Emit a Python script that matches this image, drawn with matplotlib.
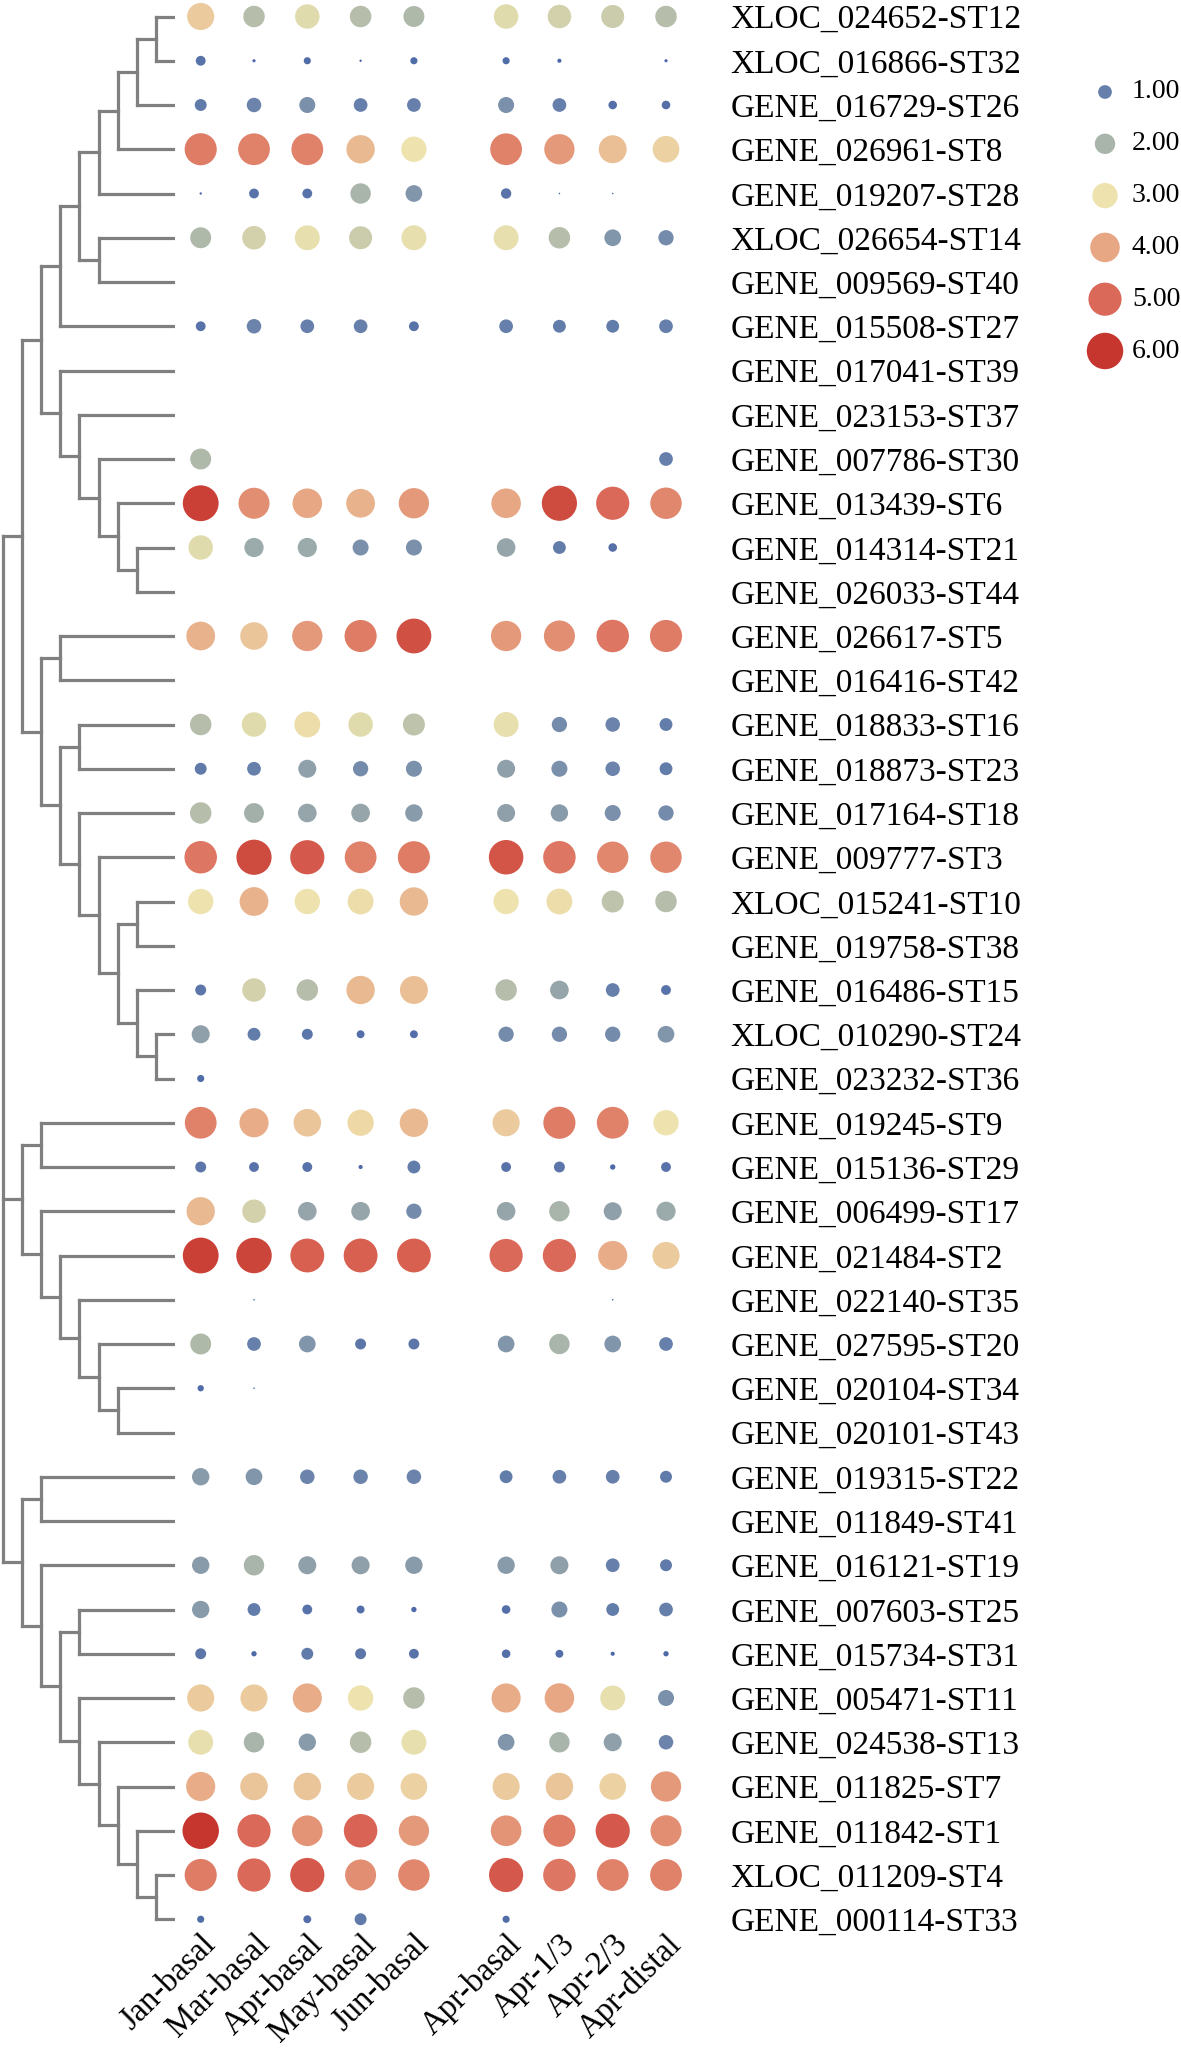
import numpy as np
import matplotlib
matplotlib.use("Agg")
import matplotlib.pyplot as plt
from matplotlib.colors import LinearSegmentedColormap, Normalize

plt.rcParams['font.family'] = ['Liberation Serif', 'DejaVu Serif']

# ---------------- data ----------------
genes = [
    "XLOC_024652-ST12", "XLOC_016866-ST32", "GENE_016729-ST26", "GENE_026961-ST8",
    "GENE_019207-ST28", "XLOC_026654-ST14", "GENE_009569-ST40", "GENE_015508-ST27",
    "GENE_017041-ST39", "GENE_023153-ST37", "GENE_007786-ST30", "GENE_013439-ST6",
    "GENE_014314-ST21", "GENE_026033-ST44", "GENE_026617-ST5", "GENE_016416-ST42",
    "GENE_018833-ST16", "GENE_018873-ST23", "GENE_017164-ST18", "GENE_009777-ST3",
    "XLOC_015241-ST10", "GENE_019758-ST38", "GENE_016486-ST15", "XLOC_010290-ST24",
    "GENE_023232-ST36", "GENE_019245-ST9", "GENE_015136-ST29", "GENE_006499-ST17",
    "GENE_021484-ST2", "GENE_022140-ST35", "GENE_027595-ST20", "GENE_020104-ST34",
    "GENE_020101-ST43", "GENE_019315-ST22", "GENE_011849-ST41", "GENE_016121-ST19",
    "GENE_007603-ST25", "GENE_015734-ST31", "GENE_005471-ST11", "GENE_024538-ST13",
    "GENE_011825-ST7", "GENE_011842-ST1", "XLOC_011209-ST4", "GENE_000114-ST33",
]

samples = ["Jan-basal", "Mar-basal", "Apr-basal", "May-basal", "Jun-basal",
           "Apr-basal", "Apr-1/3", "Apr-2/3", "Apr-distal"]
sample_group = [0, 0, 0, 0, 0, 1, 1, 1, 1]

nan = np.nan
# expression level per gene (rows) x sample (columns); nan = no dot
values = np.array([
    [3.4, 2.2, 2.8, 2.2, 2.1, 2.8, 2.6, 2.5, 2.2],
    [0.6, 0.22, 0.4, 0.2, 0.4, 0.4, 0.25, nan, 0.22],
    [0.8, 1.1, 1.3, 1.0, 1.0, 1.3, 1.0, 0.5, 0.5],
    [4.7, 4.6, 4.6, 3.7, 3.0, 4.6, 4.2, 3.6, 3.3],
    [0.2, 0.6, 0.6, 2.0, 1.4, 0.65, 0.18, 0.18, nan],
    [2.1, 2.6, 2.9, 2.5, 2.9, 2.9, 2.2, 1.4, 1.2],
    [nan] * 9,
    [0.6, 1.1, 1.0, 1.0, 0.6, 1.0, 0.9, 0.9, 1.0],
    [nan] * 9,
    [nan] * 9,
    [2.1, nan, nan, nan, nan, nan, nan, nan, 1.0],
    [5.8, 4.4, 4.0, 3.8, 4.2, 4.0, 5.6, 5.0, 4.5],
    [2.8, 1.8, 1.8, 1.3, 1.3, 1.7, 0.9, 0.5, nan],
    [nan] * 9,
    [3.8, 3.5, 4.2, 4.7, 5.5, 4.2, 4.4, 4.8, 4.7],
    [nan] * 9,
    [2.2, 2.8, 3.1, 2.8, 2.3, 2.9, 1.2, 1.1, 0.9],
    [0.8, 1.0, 1.6, 1.2, 1.3, 1.6, 1.3, 1.1, 0.9],
    [2.2, 1.9, 1.7, 1.7, 1.5, 1.6, 1.5, 1.3, 1.2],
    [4.8, 5.6, 5.3, 4.6, 4.7, 5.4, 4.8, 4.5, 4.5],
    [3.0, 3.8, 3.0, 3.1, 3.7, 3.0, 3.1, 2.3, 2.2],
    [nan] * 9,
    [0.7, 2.6, 2.2, 3.7, 3.6, 2.2, 1.7, 1.0, 0.6],
    [1.6, 0.9, 0.7, 0.45, 0.45, 1.2, 1.2, 1.2, 1.4],
    [0.4, nan, nan, nan, nan, nan, nan, nan, nan],
    [4.6, 3.9, 3.5, 3.2, 3.7, 3.4, 4.7, 4.6, 3.0],
    [0.7, 0.6, 0.6, 0.25, 0.9, 0.6, 0.7, 0.3, 0.6],
    [3.7, 2.6, 1.7, 1.7, 1.2, 1.7, 2.0, 1.6, 1.8],
    [5.8, 5.7, 5.2, 5.2, 5.2, 5.0, 5.0, 3.9, 3.4],
    [nan, 0.1, nan, nan, nan, nan, nan, 0.1, nan],
    [2.1, 1.0, 1.4, 0.7, 0.7, 1.4, 2.0, 1.4, 1.0],
    [0.35, 0.15, nan, nan, nan, nan, nan, nan, nan],
    [nan] * 9,
    [1.5, 1.4, 1.1, 1.1, 1.1, 0.9, 1.0, 1.0, 0.8],
    [nan] * 9,
    [1.5, 2.0, 1.6, 1.6, 1.5, 1.5, 1.6, 1.0, 0.8],
    [1.5, 0.9, 0.6, 0.45, 0.3, 0.5, 1.3, 0.9, 1.0],
    [0.7, 0.3, 0.8, 0.7, 0.6, 0.5, 0.45, 0.25, 0.3],
    [3.4, 3.4, 3.9, 3.0, 2.2, 3.9, 4.0, 2.9, 1.3],
    [2.9, 2.0, 1.5, 2.2, 2.9, 1.4, 2.0, 1.6, 1.1],
    [3.9, 3.5, 3.5, 3.4, 3.3, 3.4, 3.5, 3.3, 4.2],
    [6.0, 5.0, 4.3, 5.1, 4.2, 4.3, 4.7, 5.3, 4.4],
    [4.7, 5.0, 5.3, 4.4, 4.5, 5.3, 4.8, 4.6, 4.6],
    [0.4, nan, 0.45, 0.8, nan, 0.4, nan, nan, nan],
])

legend_values = [1.0, 2.0, 3.0, 4.0, 5.0, 6.0]

# hierarchical clustering tree: (height, [children]); ints are gene rows
tree = (9, [
    (8, [
        (7, [
            (6, [(5, [(4, [(3, [(2, [(1, [0, 1]), 2]), 3]), 4]), (4, [5, 6])]), 7]),
            (6, [8, (5, [9, (4, [10, (3, [11, (2, [12, 13])])])])]),
        ]),
        (7, [
            (6, [14, 15]),
            (6, [(5, [16, 17]),
                 (5, [18, (4, [19, (3, [(2, [20, 21]), (2, [22, (1, [23, 24])])])])])]),
        ]),
    ]),
    (8, [
        (7, [25, 26]),
        (7, [27, (6, [28, (5, [29, (4, [30, (3, [31, 32])])])])]),
    ]),
    (8, [
        (7, [33, 34]),
        (7, [35, (6, [(5, [36, 37]),
                      (5, [38, (4, [39, (3, [40, (2, [41, (1, [42, 43])])])])])])]),
    ]),
])

# ---------------- styling ----------------
cmap = LinearSegmentedColormap.from_list("expr", [
    (0 / 6, "#4360a6"),
    (1 / 6, "#6780ab"),
    (2 / 6, "#a9b5aa"),
    (3 / 6, "#eee4ae"),
    (4 / 6, "#e7a684"),
    (5 / 6, "#db6a5a"),
    (6 / 6, "#c6362e"),
])
norm = Normalize(0, 6)


def dot_size(v):
    r_px = np.sqrt(np.clip(57.0 * np.asarray(v, float) - 10.0, 0.6, None))
    r_pt = r_px * 72.0 / 100.0
    return (2 * r_pt) ** 2


W, H = 1181, 2049
fig = plt.figure(figsize=(W / 100, H / 100), dpi=100)

top_px, bot_px = 0, 1940
ax_b = 1 - bot_px / H
ax_h = (bot_px - top_px) / H
row0, row_step = 16.5, 44.25
ylim = ((bot_px - row0) / row_step, (top_px - row0) / row_step)

# dot axes
col_step = 53.3
col0 = 200.7
ax = fig.add_axes([175 / W, ax_b, (725 - 175) / W, ax_h])
gap = 0.73
xpos = np.array([i + gap * g for i, g in enumerate(sample_group)])
ax.set_xlim((175 - col0) / col_step, (725 - col0) / col_step)
ax.set_ylim(*ylim)

rows, cols = np.nonzero(~np.isnan(values))
v = values[rows, cols]
ax.scatter(xpos[cols], rows, s=dot_size(v), c=v, cmap=cmap, norm=norm,
           linewidths=0, zorder=3)

for s in ax.spines.values():
    s.set_visible(False)
ax.yaxis.tick_right()
ax.set_yticks(np.arange(len(genes)))
ax.set_yticklabels(genes, fontsize=24)
ax.tick_params(axis='y', length=0, pad=4)
ax.set_xticks(xpos)
ax.set_xticklabels(samples, fontsize=23.5, rotation=45, ha='right', va='top',
                   rotation_mode='anchor')
ax.tick_params(axis='x', length=0, pad=-8)

# dendrogram axes
dax = fig.add_axes([0, ax_b, 175 / W, ax_h], sharey=ax)
dax.set_xlim(9.157, 0)
for s in dax.spines.values():
    s.set_visible(False)
dax.tick_params(left=False, bottom=False, labelleft=False, labelbottom=False)
line_kw = dict(color="#808080", lw=2.3, solid_capstyle='projecting')


def draw(node):
    if isinstance(node, (int, np.integer)):
        return float(node), 0.0
    h, children = node
    pos = [draw(c) for c in children]
    ys = [p[0] for p in pos]
    for y, ch in pos:
        dax.plot([ch, h], [y, y], **line_kw)
    dax.plot([h, h], [min(ys), max(ys)], **line_kw)
    return float(np.mean(ys)), h


draw(tree)

# size / colour legend
lax = fig.add_axes([1080 / W, 1 - 384 / H, 101 / W, 320 / H])
lstep = 51.8
ly0 = 92
lax.set_xlim(-25, 76)
lax.set_ylim(1 + (384 - ly0) / lstep, 1 - (ly0 - 64) / lstep)
lax.axis('off')
lv = np.array(legend_values)
lax.scatter(np.zeros_like(lv), lv, s=dot_size(lv), c=lv, cmap=cmap, norm=norm,
            linewidths=0, clip_on=False)
for val in legend_values:
    lax.text(27, val, f"{val:.2f}", fontsize=20, va='center', ha='left')

fig.savefig("out.png", dpi=100)
